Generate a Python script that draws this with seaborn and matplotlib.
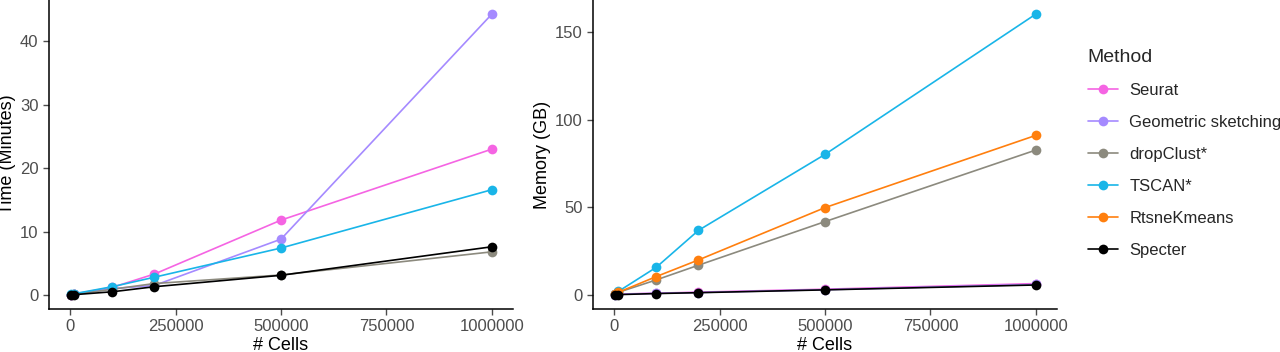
import pandas as pd
import seaborn as sns
import matplotlib.pyplot as plt
from matplotlib.lines import Line2D

cells = [1000, 10000, 100000, 200000, 500000, 1000000]

methods = ["Seurat", "Geometric sketching", "dropClust*", "TSCAN*", "RtsneKmeans", "Specter"]
colors = ["#F564E3", "#A58AFF", "#8C8A7E", "#19B5E8", "#FF7F0E", "#000000"]

# time in minutes (RtsneKmeans not shown in the time panel)
seurat_time = [0.05, 0.15, 1.2, 3.3, 11.8, 23.0]
geosketch_time = [0.05, 0.1, 1.0, 1.5, 8.8, 44.3]
dropclust_time = [0.05, 0.1, 0.9, 1.8, 3.15, 6.8]
tscan_time = [0.1, 0.2, 1.3, 2.8, 7.4, 16.6]
specter_time = [0.02, 0.05, 0.5, 1.3, 3.1, 7.6]

# memory in GB
seurat_mem = [0.3, 0.5, 1.0, 1.6, 3.3, 6.5]
geosketch_mem = [0.2, 0.4, 0.9, 1.4, 3.0, 6.0]
dropclust_mem = [0.5, 1.5, 8.6, 17.0, 41.9, 82.8]
tscan_mem = [0.5, 2.0, 15.8, 36.9, 80.3, 160.5]
rtsne_mem = [0.5, 1.5, 10.5, 20.0, 49.9, 91.2]
specter_mem = [0.1, 0.2, 0.8, 1.3, 2.9, 5.7]

time_series = {"Seurat": seurat_time, "Geometric sketching": geosketch_time,
               "dropClust*": dropclust_time, "TSCAN*": tscan_time, "Specter": specter_time}
mem_series = {"Seurat": seurat_mem, "Geometric sketching": geosketch_mem,
              "dropClust*": dropclust_mem, "TSCAN*": tscan_mem,
              "RtsneKmeans": rtsne_mem, "Specter": specter_mem}


def to_long(series, col):
    rows = []
    for m, vals in series.items():
        for c, v in zip(cells, vals):
            rows.append({"Method": m, "# Cells": c, col: v})
    return pd.DataFrame(rows)


time_df = to_long(time_series, "Time (Minutes)")
mem_df = to_long(mem_series, "Memory (GB)")
palette = dict(zip(methods, colors))

sns.set_style("ticks")
plt.rcParams['font.family'] = ['Liberation Sans', 'DejaVu Sans']

fig = plt.figure(figsize=(12.8, 3.52), dpi=100)
ax1 = fig.add_axes([49 / 1280, 43 / 352, 464 / 1280, 309 / 352])
ax2 = fig.add_axes([593 / 1280, 43 / 352, 464 / 1280, 309 / 352])

line_kw = dict(marker="o", markersize=7, markeredgewidth=0, linewidth=1.2)

for ax, df, col in [(ax1, time_df, "Time (Minutes)"), (ax2, mem_df, "Memory (GB)")]:
    order = [m for m in methods if m in df["Method"].unique()]
    sns.lineplot(data=df, x="# Cells", y=col, hue="Method", hue_order=order,
                 palette=palette, legend=False, ax=ax, **line_kw)
    ymax = df[col].max()
    ax.set_xlim(-50000, 1050000)
    ax.set_ylim(-0.05 * ymax, 1.05 * ymax)
    ax.set_xticks([0, 250000, 500000, 750000, 1000000])
    ax.set_xticklabels(["0", "250000", "500000", "750000", "1000000"])
    sns.despine(ax=ax)
    for s in ["left", "bottom"]:
        ax.spines[s].set_linewidth(1.1)
        ax.spines[s].set_color("black")
    ax.tick_params(axis="both", labelsize=12, colors="#4D4D4D", length=4, width=1.0)
    ax.set_xlabel("# Cells", fontsize=13, color="black", labelpad=2)
    ax.set_ylabel(col, fontsize=13, color="black", labelpad=3)

ax1.set_yticks([0, 10, 20, 30, 40])
ax2.set_yticks([0, 50, 100, 150])

handles = [Line2D([0], [0], color=palette[m], **line_kw) for m in methods]
fig.legend(handles, methods, loc="upper left", bbox_to_anchor=(1081 / 1280, 1 - 42 / 352),
           frameon=False, title="Method", fontsize=12, title_fontsize=14,
           handlelength=1.8, handletextpad=0.7, labelspacing=1.02, alignment="left",
           borderaxespad=0)

fig.savefig("out.png", dpi=100)
